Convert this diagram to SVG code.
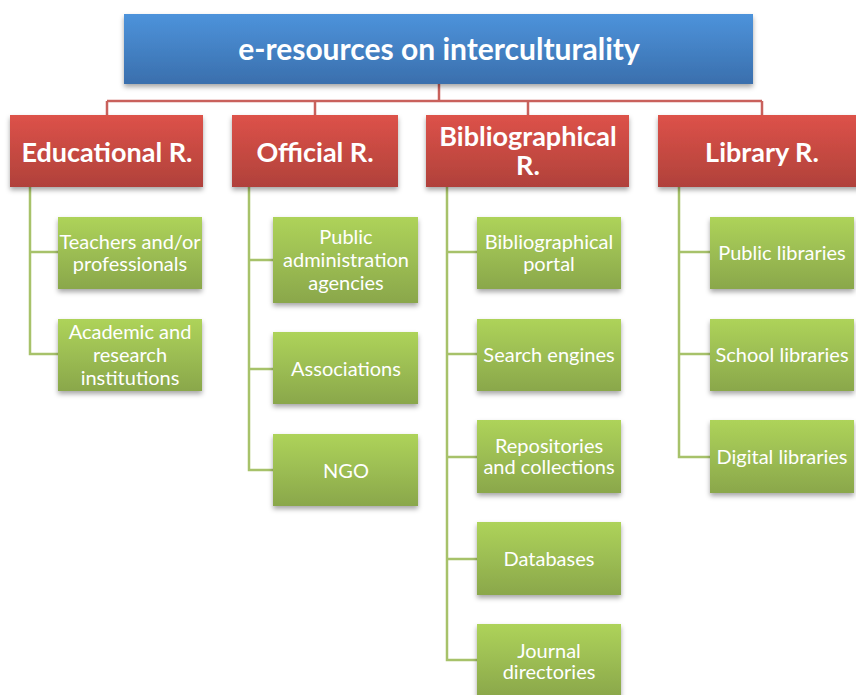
<svg xmlns="http://www.w3.org/2000/svg" width="856" height="695" viewBox="0 0 856 695">
<defs>
<linearGradient id="gBlue" x1="0" y1="0" x2="0" y2="1"><stop offset="0" stop-color="#4d93db"/><stop offset="1" stop-color="#3a6fad"/></linearGradient>
<linearGradient id="gRed" x1="0" y1="0" x2="0" y2="1"><stop offset="0" stop-color="#dd5249"/><stop offset="1" stop-color="#b0413b"/></linearGradient>
<linearGradient id="gGreen" x1="0" y1="0" x2="0" y2="1"><stop offset="0" stop-color="#aed35a"/><stop offset="1" stop-color="#8aa74b"/></linearGradient>
<filter id="sh" x="-10%" y="-10%" width="120%" height="140%"><feDropShadow dx="0" dy="3" stdDeviation="2.5" flood-color="#000" flood-opacity="0.35"/></filter>
<style>
.blue{fill:url(#gBlue);filter:url(#sh)}
.red{fill:url(#gRed);filter:url(#sh)}
.green{fill:url(#gGreen);filter:url(#sh)}
text{font-family:Lato,"Open Sans",sans-serif;fill:#fff;text-anchor:middle}
.t0{font-size:30px;font-weight:bold}
.t1{font-size:27px;font-weight:bold}
.t2{font-size:20px}
.rc{fill:none;stroke:#c9615c;stroke-width:2.5}
.gc{fill:none;stroke:#a7c26a;stroke-width:2.5}
</style>
</defs>
<g id="connectors">
<path class="rc" d="M439,84V101M107,101H762M107,101V115M315,101V115M528,101V115M762,101V115"/>
<path class="gc" d="M30,187V354H58M30,252H58"/>
<path class="gc" d="M249,187V470H273M249,260H273M249,369H273"/>
<path class="gc" d="M447,187V660H477M447,252H477M447,354H477M447,457H477M447,559H477"/>
<path class="gc" d="M679,187V457H710M679,252H710M679,354H710"/>
</g>
<g id="root"><rect class="blue" x="124" y="14" width="629" height="70"/><text class="t0" x="439" y="60">e-resources on interculturality</text></g>
<g id="educational"><rect class="red" x="10" y="115" width="193" height="72"/><text class="t1" x="107" y="162">Educational R.</text></g>
<g id="official"><rect class="red" x="232" y="115" width="166" height="72"/><text class="t1" x="315" y="162">Official R.</text></g>
<g id="bibliographical"><rect class="red" x="426" y="115" width="203" height="72"/><text class="t1" x="528" y="146">Bibliographical</text><text class="t1" x="528" y="175">R.</text></g>
<g id="library"><rect class="red" x="658" y="115" width="210" height="72"/><text class="t1" x="762" y="162">Library R.</text></g>
<g id="teachers"><rect class="green" x="58" y="217" width="144" height="72"/><text class="t2" x="130" y="249">Teachers and/or</text><text class="t2" x="130" y="271">professionals</text></g>
<g id="academic"><rect class="green" x="58" y="319" width="144" height="72"/><text class="t2" x="130" y="339">Academic and</text><text class="t2" x="130" y="362">research</text><text class="t2" x="130" y="385">institutions</text></g>
<g id="public-admin"><rect class="green" x="273" y="217" width="145" height="86"/><text class="t2" x="346" y="244">Public</text><text class="t2" x="346" y="267">administration</text><text class="t2" x="346" y="290">agencies</text></g>
<g id="associations"><rect class="green" x="273" y="332" width="145" height="72"/><text class="t2" x="346" y="376">Associations</text></g>
<g id="ngo"><rect class="green" x="273" y="434" width="145" height="72"/><text class="t2" x="346" y="478">NGO</text></g>
<g id="bib-portal"><rect class="green" x="477" y="217" width="144" height="72"/><text class="t2" x="549" y="249">Bibliographical</text><text class="t2" x="549" y="271">portal</text></g>
<g id="search"><rect class="green" x="477" y="319" width="144" height="72"/><text class="t2" x="549" y="362">Search engines</text></g>
<g id="repositories"><rect class="green" x="477" y="420" width="144" height="73"/><text class="t2" x="549" y="453">Repositories</text><text class="t2" x="549" y="474">and collections</text></g>
<g id="databases"><rect class="green" x="477" y="522" width="144" height="73"/><text class="t2" x="549" y="566">Databases</text></g>
<g id="journal"><rect class="green" x="477" y="624" width="144" height="73"/><text class="t2" x="549" y="658">Journal</text><text class="t2" x="549" y="679">directories</text></g>
<g id="public-lib"><rect class="green" x="710" y="217" width="144" height="72"/><text class="t2" x="782" y="260">Public libraries</text></g>
<g id="school-lib"><rect class="green" x="710" y="319" width="144" height="72"/><text class="t2" x="782" y="362">School libraries</text></g>
<g id="digital-lib"><rect class="green" x="710" y="420" width="144" height="73"/><text class="t2" x="782" y="464">Digital libraries</text></g>
</svg>
